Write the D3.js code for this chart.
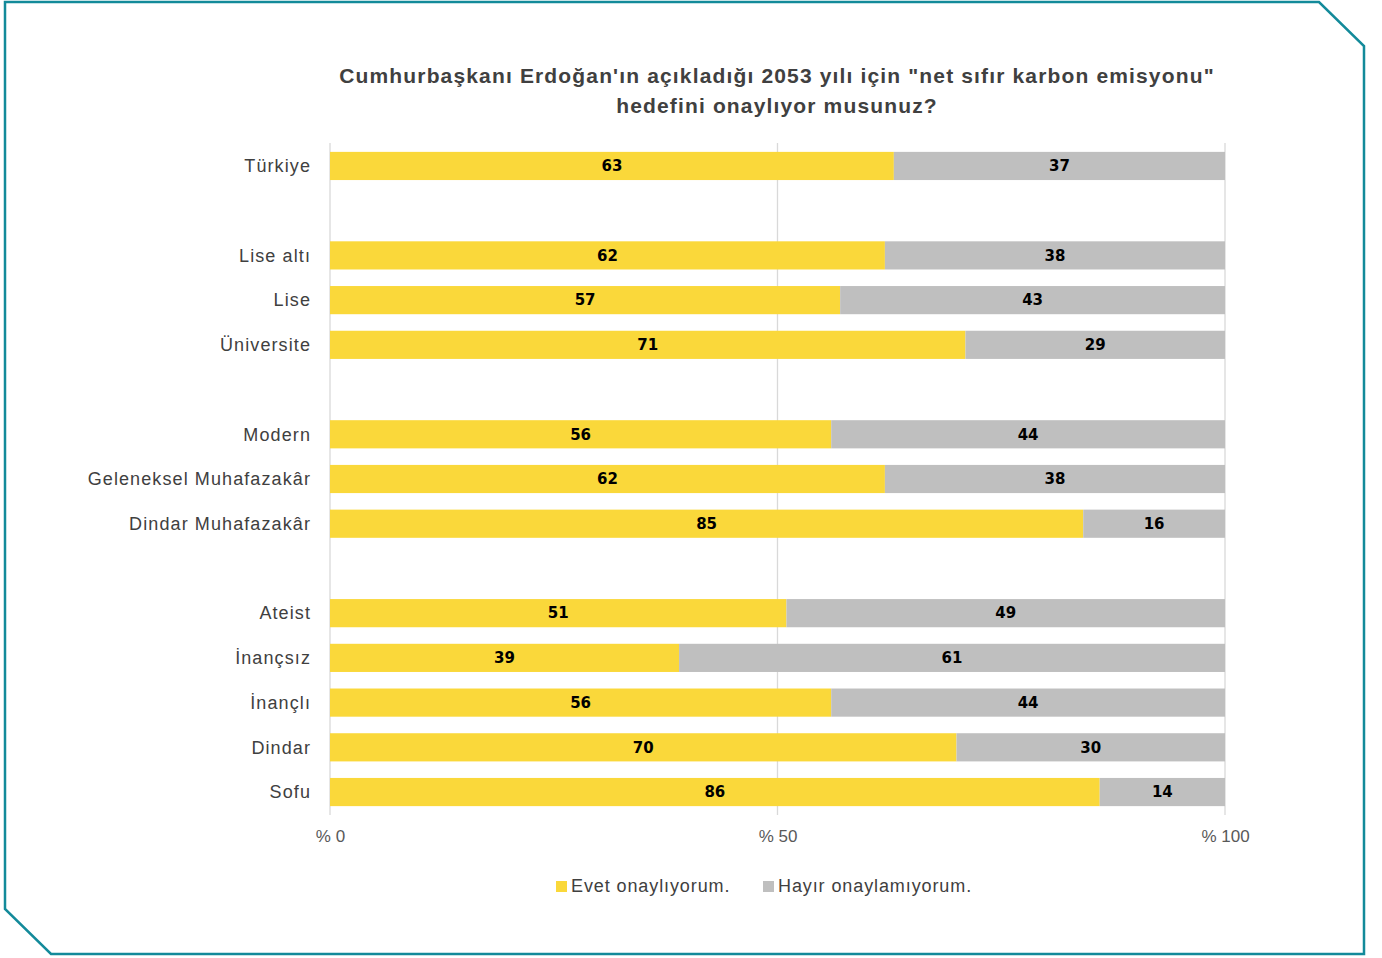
<!DOCTYPE html>
<html>
<head>
<meta charset="utf-8">
<script src="https://cdn.jsdelivr.net/npm/d3@7"></script>
<style>
  html, body { margin: 0; padding: 0; background: #fff; }
  svg { display: block; }
</style>
</head>
<body>
<svg id="chart" width="1382" height="958"></svg>
<script>
// Rows of the chart; empty strings mark the spacer rows between groups.
const categories = [
  "Türkiye", "",
  "Lise altı", "Lise", "Üniversite", "",
  "Modern", "Geleneksel Muhafazakâr", "Dindar Muhafazakâr", "",
  "Ateist", "İnançsız", "İnançlı", "Dindar", "Sofu"
];
const evet  = [63, null, 62, 57, 71, null, 56, 62, 85, null, 51, 39, 56, 70, 86];
const hayir = [37, null, 38, 43, 29, null, 44, 38, 16, null, 49, 61, 44, 30, 14];
const seriesNames = ["Evet onaylıyorum.", "Hayır onaylamıyorum."];
const seriesColors = ["#FAD83A", "#BFBFBF"];
const tickValues = [0, 0.5, 1];
const tickLabels = ["% 0", "% 50", "% 100"];
const titleLines = [
  "Cumhurbaşkanı Erdoğan'ın açıkladığı 2053 yılı için \"net sıfır karbon emisyonu\"",
  "hedefini onaylıyor musunuz?"
];

const W = 1382, H = 958;
const svg = d3.select("#chart");

// Frame with cut corners (top-right and bottom-left)
const frame = d3.path();
frame.moveTo(5, 2);
frame.lineTo(1319, 2);
frame.lineTo(1364, 46);
frame.lineTo(1364, 954);
frame.lineTo(51, 954);
frame.lineTo(5, 909);
frame.closePath();
svg.append("path")
  .attr("d", frame.toString())
  .attr("fill", "none")
  .attr("stroke", "#138A9A")
  .attr("stroke-width", 2.5);

// Title
svg.append("text")
  .attr("x", 777).attr("y", 83)
  .attr("text-anchor", "middle")
  .attr("font-family", "'Liberation Sans', Arial, sans-serif")
  .attr("font-weight", "bold")
  .attr("font-size", 21)
  .attr("letter-spacing", 1.15)
  .attr("fill", "#404040")
  .selectAll("tspan")
  .data(titleLines)
  .join("tspan")
  .attr("x", 777)
  .attr("dy", (d, i) => i === 0 ? 0 : 30)
  .text(d => d);

// Layout
const x = d3.scaleLinear().domain([0, 1]).range([330, 1225]);
const rowIds = categories.map((c, i) => i);
const y = d3.scaleBand()
  .domain(rowIds)
  .range([143.6, 814.4])
  .paddingInner(0.37)
  .paddingOuter(0.185);

// Table for stacking; 100% stacked like the original
const table = categories.map((c, i) => ({ i, cat: c, evet: evet[i], hayir: hayir[i] }))
  .filter(d => d.evet != null);
const stack = d3.stack()
  .keys(["evet", "hayir"])
  .offset(d3.stackOffsetExpand);
const layers = stack(table);

// Gridlines
svg.append("g")
  .selectAll("line")
  .data(tickValues)
  .join("line")
  .attr("x1", d => x(d)).attr("x2", d => x(d))
  .attr("y1", 143).attr("y2", 815)
  .attr("stroke", "#D9D9D9")
  .attr("stroke-width", 1.3);

// Bars
const layerG = svg.append("g")
  .selectAll("g")
  .data(layers)
  .join("g")
  .attr("fill", (d, i) => seriesColors[i]);

layerG.selectAll("rect")
  .data(d => d)
  .join("rect")
  .attr("x", d => x(d[0]))
  .attr("width", d => x(d[1]) - x(d[0]))
  .attr("y", d => y(d.data.i))
  .attr("height", y.bandwidth());

// Value labels
layerG.selectAll("text")
  .data((d) => d.map(v => ({ v, key: d.key })))
  .join("text")
  .attr("x", d => (x(d.v[0]) + x(d.v[1])) / 2)
  .attr("y", d => y(d.v.data.i) + y.bandwidth() / 2)
  .attr("dy", "0.35em")
  .attr("text-anchor", "middle")
  .attr("font-family", "'DejaVu Sans', Verdana, sans-serif")
  .attr("font-weight", "bold")
  .attr("font-size", 15)
  .attr("fill", "#000")
  .text(d => d.v.data[d.key]);

// Category labels
svg.append("g")
  .selectAll("text")
  .data(table)
  .join("text")
  .attr("x", 311)
  .attr("y", d => y(d.i) + y.bandwidth() / 2)
  .attr("dy", "0.35em")
  .attr("text-anchor", "end")
  .attr("font-family", "'Liberation Sans', Arial, sans-serif")
  .attr("font-size", 18)
  .attr("letter-spacing", 1.1)
  .attr("fill", "#404040")
  .text(d => d.cat);

// X axis tick labels
const xAxis = d3.axisBottom(x)
  .tickValues(tickValues)
  .tickFormat((d, i) => tickLabels[i])
  .tickSize(0)
  .tickPadding(0);
const axG = svg.append("g")
  .attr("transform", "translate(0,830)")
  .call(xAxis);
axG.select(".domain").remove();
axG.selectAll("text")
  .attr("font-family", "'Liberation Sans', Arial, sans-serif")
  .attr("font-size", 17)
  .attr("fill", "#595959");

// Legend
const legendX = [556, 763];
const leg = svg.append("g")
  .selectAll("g")
  .data(seriesNames)
  .join("g")
  .attr("transform", (d, i) => `translate(${legendX[i]},886)`);
leg.append("rect")
  .attr("x", 0).attr("y", -5)
  .attr("width", 11).attr("height", 11)
  .attr("fill", (d, i) => seriesColors[i]);
leg.append("text")
  .attr("x", 15).attr("y", 0)
  .attr("dy", "0.35em")
  .attr("font-family", "'Liberation Sans', Arial, sans-serif")
  .attr("font-size", 18)
  .attr("letter-spacing", 0.9)
  .attr("fill", "#404040")
  .text(d => d);
</script>
</body>
</html>
